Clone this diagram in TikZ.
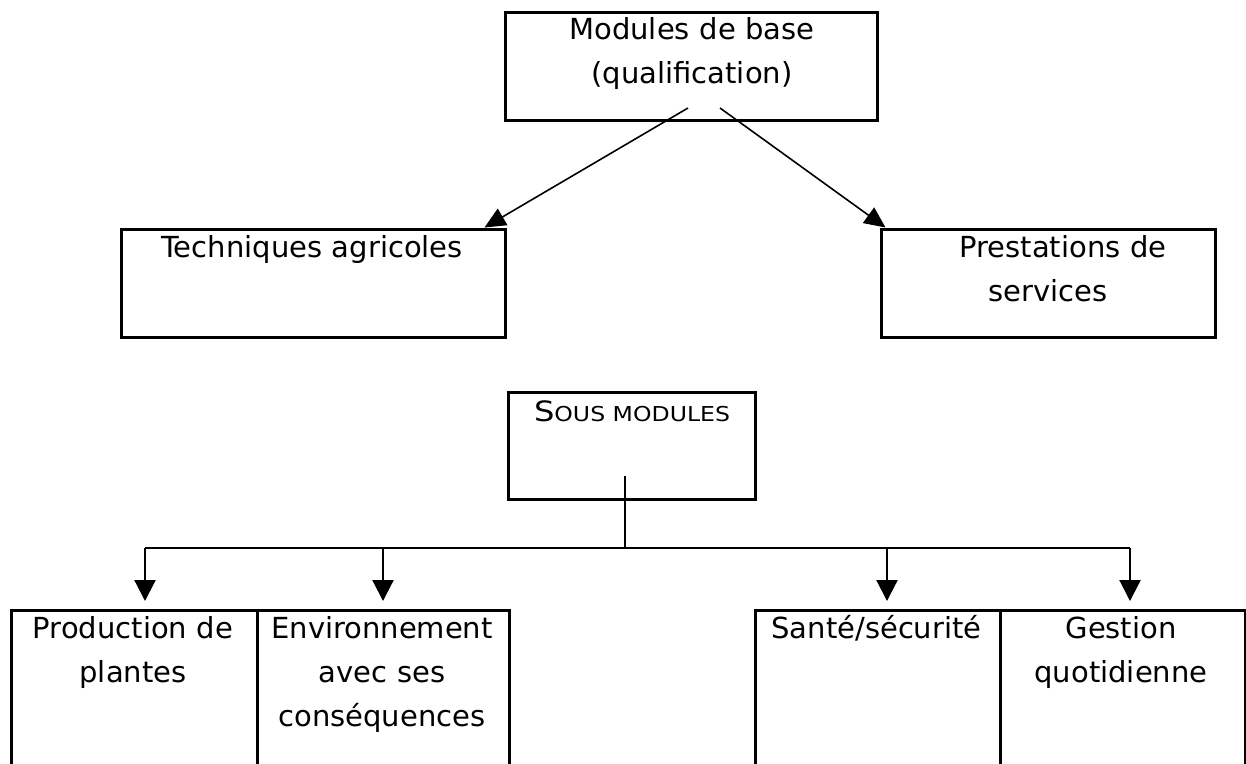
\documentclass[tikz,border=0pt]{standalone}
\usepackage{fontspec}
\setmainfont{DejaVu Sans}
\usetikzlibrary{arrows.meta,calc}
\begin{document}
\begin{tikzpicture}[x=1pt,y=-1pt,
  box/.style={draw,line width=3pt,inner sep=0pt},
  txt/.style={inner sep=0pt,anchor=base,text width=#1,align=center,font=\fontsize{29}{44}\selectfont},
  diag/.style={line width=1.6pt,-{Triangle[length=21pt,width=19pt]}},
  conn/.style={line width=2.2pt},
  darr/.style={line width=2.2pt,-{Triangle[length=21pt,width=21pt]},shorten >=8pt}
]
\useasboundingbox (0,0) rectangle (1246,763);
\clip (0,0) rectangle (1246,763);
\fill[white] (0,0) rectangle (1246,763);

% top level
\node[box,minimum width=372pt,minimum height=108pt] (top) at (691,66) {};
\node[txt=370pt] (toptxt) at (692,39) {Modules de base\\(qualification)};

\node[box,minimum width=384pt,minimum height=108pt] (tech) at (313,283) {};
\node[txt=380pt] (techtxt) at (312,257) {Techniques agricoles};

\node[box,minimum width=334pt,minimum height=108pt] (prest) at (1048,283) {};
\node[txt=330pt] (presttxt) at (1048,257) {\hspace*{30pt}Prestations de\\services};

\coordinate (s1) at (688,108);
\coordinate (s2) at (720,108);
\draw[diag] (s1) -- ($(tech.north east)+(-22,0)$);
\draw[diag] (s2) -- ($(prest.north west)+(6,0)$);

% sous modules
\node[box,minimum width=247pt,minimum height=107pt] (sous) at (631.5,445.5) {};
\node[anchor=base,inner sep=0pt] (soustxt) at (632,421)
  {\scalebox{1.15}[1]{\fontsize{28}{30}\selectfont S\fontsize{20.5}{30}\selectfont OUS MODULES}};

\coordinate (v0) at (625,476);
\coordinate (h1) at (145,548);
\coordinate (h2) at (383,548);
\coordinate (h3) at (887,548);
\coordinate (h4) at (1130,548);
\draw[conn] (v0) -- (v0 |- h1);
\draw[conn] (h1) -- (h4);

% bottom boxes (cut off by the page)
\node[box,anchor=north west,minimum width=246pt,minimum height=250pt] (pp) at (10,609) {};
\node[box,anchor=north west,minimum width=252pt,minimum height=250pt] (env) at (256,609) {};
\node[box,anchor=north west,minimum width=245pt,minimum height=250pt] (sante) at (754,609) {};
\node[box,anchor=north west,minimum width=245pt,minimum height=250pt] (gest) at (999,609) {};

\draw[darr] (h1) -- (h1 |- pp.north);
\draw[darr] (h2) -- (h2 |- env.north);
\draw[darr] (h3) -- (h3 |- sante.north);
\draw[darr] (h4) -- (h4 |- gest.north);

\node[txt=240pt] (pptxt) at (133,638) {Production de\\plantes};
\node[txt=246pt] (envtxt) at (382,638) {Environnement\\avec ses\\conséquences};
\node[txt=240pt] (santetxt) at (876.5,638) {Santé/sécurité};
\node[txt=240pt] (gesttxt) at (1121,638) {Gestion\\quotidienne};
\end{tikzpicture}
\end{document}
